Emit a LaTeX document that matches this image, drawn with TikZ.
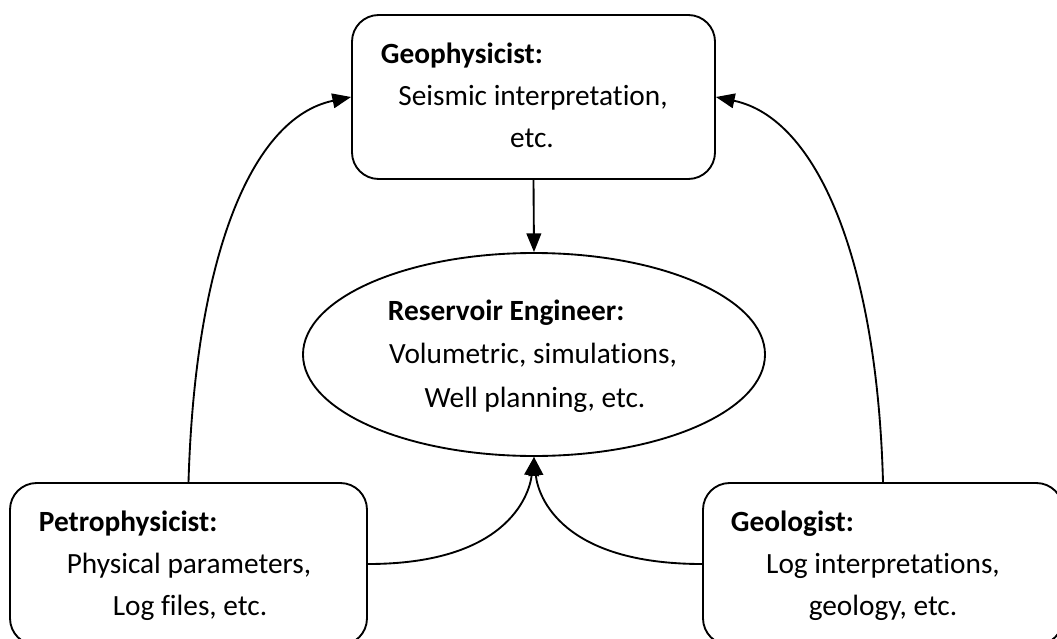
\documentclass[tikz,border=0pt]{standalone}
\usepackage{fontspec}
\setmainfont{Carlito}[Ligatures=NoCommon]
\usetikzlibrary{shapes.geometric,arrows.meta}
\begin{document}
\begin{tikzpicture}[x=0.75pt,y=-0.75pt,
  line width=1.4pt,
  rbox/.style={draw, rounded corners=20pt, inner sep=0pt},
  ellbox/.style={draw, ellipse, inner sep=0pt},
  lbl/.style={font=\fontsize{22}{26}\selectfont, inner sep=0pt, anchor=base},
  ttl/.style={font=\fontsize{22}{26}\bfseries\selectfont, inner sep=0pt, anchor=base west},
  conn/.style={-{Triangle[length=14pt,width=11pt]}, line width=1.4pt}
]
\useasboundingbox (0,0) rectangle (1057,639);
\node[rbox, minimum width=363*0.75pt, minimum height=164*0.75pt] (geo) at (533.5,97) {};
\node[ellbox, minimum width=462*0.75pt, minimum height=203*0.75pt] (res) at (534,354.5) {};
\node[rbox, minimum width=357*0.75pt, minimum height=162*0.75pt] (pet) at (188.5,564) {};
\node[rbox, minimum width=360*0.75pt, minimum height=162*0.75pt] (gel) at (883,564) {};

\node[ttl] (t1) at (380,63) {Geophysicist:};
\node[lbl] (t1a) at (533,105) {Seismic interpretation,};
\node[lbl] (t1b) at (532,147) {etc.};

\node[ttl] (t2) at (387,320) {Reservoir Engineer:};
\node[lbl] (t2a) at (533,363) {Volumetric, simulations,};
\node[lbl] (t2b) at (535,407) {Well planning, etc.};

\node[ttl] (t3) at (38,531) {Petrophysicist:};
\node[lbl] (t3a) at (189,573) {Physical parameters,};
\node[lbl] (t3b) at (190,615) {Log files, etc.};

\node[ttl] (t4) at (730,531) {Geologist:};
\node[lbl] (t4a) at (883,573) {Log interpretations,};
\node[lbl] (t4b) at (883,615) {geology, etc.};

\draw[conn] (geo.south) -- (res.north);
\draw[conn] (pet.north) .. controls (195,260) and (250,118) .. (geo.west);
\draw[conn] (gel.north) .. controls (877,260) and (817,118) .. (geo.east);
\draw[conn] (pet.east) .. controls (505,564) and (529,497) .. (res.south);
\draw[conn] (gel.west) .. controls (562,564) and (538,497) .. (res.south);
\end{tikzpicture}
\end{document}
